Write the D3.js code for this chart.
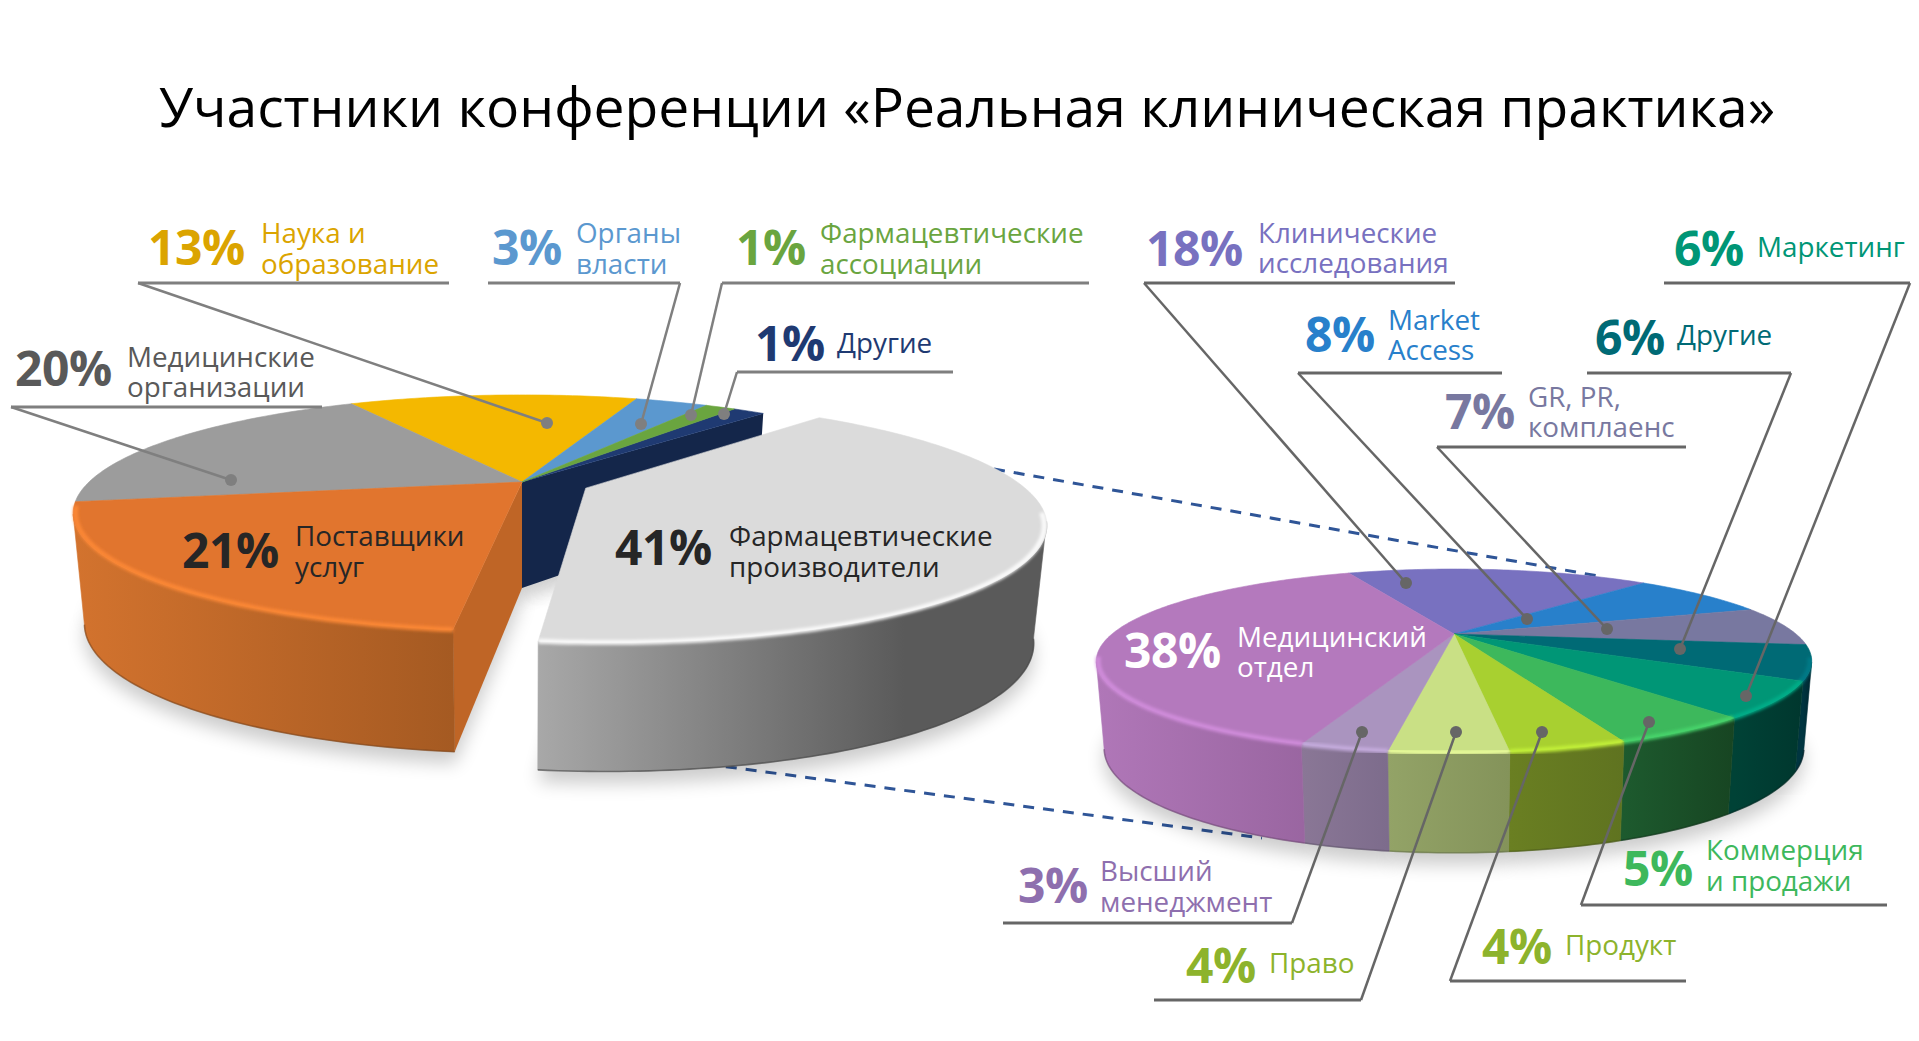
<!DOCTYPE html>
<html lang="ru">
<head>
<meta charset="utf-8">
<title>Участники конференции</title>
<script src="https://cdn.jsdelivr.net/npm/d3@7"></script>
<style>
    html, body { margin: 0; background: #fff; }
    svg { display: block; font-family: "Open Sans", "Noto Sans", sans-serif; }
</style>
</head>
<body>
<svg id="chart" width="1919" height="1041"></svg>
<script>
const titleText = 'Участники конференции «Реальная клиническая практика»';

// Outer pie, clockwise from the yellow slice (shares)
const outerNames = [['Наука и', 'образование'], ['Органы', 'власти'], ['Фармацевтические', 'ассоциации'], ['Другие'],
    ['Фармацевтические', 'производители'], ['Поставщики', 'услуг'], ['Медицинские', 'организации']];
const outerValues = [13.49, 3.4, 1.4, 1.49, 40.51, 20.5, 19.8];
const outerTop = ['#f4b800', '#5b98cf', '#6aa53f', '#1f3a72', '#dbdbdb', '#e1752e', '#9c9c9c'];
const outerWall = [['#b98c00', '#a67e00'], ['#44739c', '#3d6890'], ['#4f7d30', '#47702b'], ['#14264a', '#14264a'],
    ['#a8a8a8', '#5a5a5a'], ['#d3732e', '#a55a22'], ['#777', '#666']];
const outerInk = ['#dba400', '#5b98cf', '#6aa53f', '#1f3a72', '#262626', '#262626', '#595959'];

// Inner pie: breakdown of the pharma slice, clockwise from "Клинические исследования"
const innerNames = [['Клинические', 'исследования'], ['Market', 'Access'], ['GR, PR,', 'комплаенс'], ['Другие'], ['Маркетинг'],
    ['Коммерция', 'и продажи'], ['Продукт'], ['Право'], ['Высший', 'менеджмент'], ['Медицинский', 'отдел']];
const innerValues = [18, 8, 7, 6, 6, 5, 4, 4, 3, 38];
const innerTop = ['#7871c0', '#2880cb', '#7878a0', '#006a75', '#009676', '#3db85c', '#a8d030', '#c9e085', '#aa94bf', '#b479bd'];
const innerWall = [['#5a5592', '#514d85'], ['#1e6199', '#1b578a'], ['#5a5a78', '#51516c'], ['#003540', '#00252e'], ['#004236', '#00372e'],
    ['#1d5a2e', '#174522'], ['#6a7f22', '#5f7320'], ['#93a367', '#84935a'], ['#8a7796', '#7d6c8c'], ['#b077b8', '#95629c']];
const innerInk = ['#7871c0', '#2880cb', '#7878a0', '#006a75', '#009676', '#3db85c', '#8db32c', '#8db32c', '#8e6fae', '#fff'];

// Label layout, same order as the names: [percent x, percent baseline, text x, text baselines]
const outerSpots = [[148, 265, 261, [243, 274]], [492, 265, 576, [243, 274]], [736, 265, 820, [243, 274]], [755, 361, 837, [353]],
    [615, 565, 729, [546, 577]], [182, 568, 295, [546, 577]], [15, 386, 127, [367, 397]]];
const innerSpots = [[1146, 266, 1258, [243, 273]], [1305, 352, 1388, [330, 360]], [1445, 429, 1528, [407, 437]], [1595, 355, 1677, [345]],
    [1674, 266, 1757, [257]], [1623, 886, 1706, [860, 891]], [1482, 964, 1565, [955]], [1186, 983, 1269, [973]], [1018, 903, 1100, [881, 912]], [1124, 668, 1237, [647, 677]]];

// Leaders: underline from x0 to x1 at y, bent at the elbow end down to the dot
const outerLeaders = [
    { x0: 138, x1: 449, y: 283, elbow: 138, dot: [547, 423] },
    { x0: 488, x1: 680, y: 283, elbow: 680, dot: [641, 424] },
    { x0: 722, x1: 1089, y: 283, elbow: 722, dot: [691, 415] },
    { x0: 737, x1: 953, y: 372, elbow: 737, dot: [724, 414] },
    null, null,
    { x0: 11, x1: 322, y: 407, elbow: 11, dot: [231, 480] }
];
const innerLeaders = [
    { x0: 1144, x1: 1455, y: 283, elbow: 1144, dot: [1406, 583] },
    { x0: 1298, x1: 1502, y: 373, elbow: 1298, dot: [1527, 619] },
    { x0: 1437, x1: 1686, y: 447, elbow: 1437, dot: [1607, 629] },
    { x0: 1587, x1: 1791, y: 373, elbow: 1791, dot: [1680, 649] },
    { x0: 1664, x1: 1910, y: 283, elbow: 1910, dot: [1746, 696] },
    { x0: 1581, x1: 1887, y: 905, elbow: 1581, dot: [1649, 722] },
    { x0: 1450, x1: 1686, y: 981, elbow: 1450, dot: [1542, 732] },
    { x0: 1154, x1: 1361, y: 1000, elbow: 1361, dot: [1456, 732] },
    { x0: 1003, x1: 1292, y: 923, elbow: 1292, dot: [1362, 732] },
    null
];

const svg = d3.select('#chart');
const defs = svg.append('defs');
const rad = Math.PI / 180;

defs.append('filter').attr('id', 'soft').attr('x', '-20%').attr('y', '-20%').attr('width', '140%').attr('height', '140%')
    .append('feGaussianBlur').attr('stdDeviation', 9);
defs.append('filter').attr('id', 'rim').attr('x', '-20%').attr('y', '-20%').attr('width', '140%').attr('height', '140%')
    .append('feGaussianBlur').attr('stdDeviation', 1.5);

// Pie plane seen in perspective: (u, v) on the unit disc, v pointing to the viewer
function projector(g) {
    return (a, r, ex = 0, ey = 0) => {
        const u = r * Math.sin(a) + ex;
        const v = -r * Math.cos(a) + ey;
        const w = 1 - g.k * v;
        return { x: g.cx + g.R * u / w, y: g.cy + g.S * v / w, v, front: -Math.cos(a) };
    };
}

const lineGen = d3.line().x(d => d.x).y(d => d.y);

function arcSamples(a0, a1) {
    const n = Math.max(2, Math.ceil((a1 - a0) / (1 * rad)));
    return d3.range(n + 1).map(i => a0 + (a1 - a0) * i / n);
}

function drawPie(g, values, topColors, wallColors, name) {
    const project = projector(g);
    const arcs = d3.pie().sort(null).startAngle(g.start * rad).endAngle((g.start + 360) * rad)(values);

    // exploded slice last so it sits on top of the rest, its neighbour just before it
    const order = d3.range(arcs.length).sort((a, b) => g.rank(a) - g.rank(b));

    const layer = svg.append('g').attr('class', name);
    const rimOf = i => {
        const off = i === g.exploded ? g.offset : [0, 0];
        return arcSamples(arcs[i].startAngle, arcs[i].endAngle).map(a => project(a, 1, off[0], off[1]));
    };
    const apexOf = i => {
        const off = i === g.exploded ? g.offset : [0, 0];
        return project(0, 0, off[0], off[1]);
    };
    const lowerOf = i => p => ({
        x: g.cx + (p.x - g.cx) * g.shrink,
        y: p.y + g.d0 + g.d1 * p.v + (i === g.exploded ? g.extraDepth : 0)
    });

    order.forEach(i => {
        const lower = lowerOf(i);
        const outline = [lower(apexOf(i)), ...rimOf(i).map(lower)];
        layer.append('path')
            .attr('d', lineGen(outline.map(p => ({ x: p.x, y: p.y + 12 }))) + 'Z')
            .attr('fill', '#000').attr('opacity', 0.2).attr('filter', 'url(#soft)');
    });

    order.forEach(i => {
        const lower = lowerOf(i);
        const rim = rimOf(i);
        const apex = apexOf(i);
        // only the stretch of rim that faces the viewer has a visible wall
        const facing = rim.filter(p => p.front > g.k);
        const xs = d3.extent(rim, p => p.x);

        const gradId = `${name}-wall-${i}`;
        const grad = defs.append('linearGradient').attr('id', gradId)
            .attr('gradientUnits', 'userSpaceOnUse')
            .attr('x1', xs[0]).attr('x2', i === g.exploded ? xs[0] + (xs[1] - xs[0]) * 0.72 : xs[1])
            .attr('y1', 0).attr('y2', 0);
        grad.append('stop').attr('offset', 0).attr('stop-color', wallColors[i][0]);
        grad.append('stop').attr('offset', 1).attr('stop-color', wallColors[i][1]);

        // cut walls of the slices next to the gap
        if (g.cuts[i] !== undefined) {
            const edge = g.cuts[i] === 'start' ? rim[0] : rim[rim.length - 1];
            layer.append('path')
                .attr('d', lineGen([apex, edge, lower(edge), lower(apex)]) + 'Z')
                .attr('fill', g.cutColors[i]);
        }

        if (facing.length > 1) {
            layer.append('path')
                .attr('d', lineGen([...facing, ...facing.map(lower).reverse()]) + 'Z')
                .attr('fill', `url(#${gradId})`)
                .attr('stroke', `url(#${gradId})`).attr('stroke-width', 0.6);

            // darker line at the foot of the wall
            layer.append('path')
                .attr('d', lineGen(facing.map(lower)))
                .attr('fill', 'none').attr('stroke', d3.color(wallColors[i][1]).darker(0.8))
                .attr('stroke-width', 1.6).attr('opacity', 0.6);
        }

        // top face
        layer.append('path')
            .attr('d', lineGen([apex, ...rim]) + 'Z')
            .attr('fill', topColors[i])
            .attr('stroke', topColors[i]).attr('stroke-width', 0.6);
    });

    // bevel highlight along the front of the rim, painted over everything of this pie
    order.forEach(i => {
        const lit = rimOf(i).filter(p => p.front > g.bevelFrom);
        if (lit.length < 2) return;
        layer.append('path')
            .attr('d', lineGen(lit.map(p => ({ x: g.cx + (p.x - g.cx) * 0.995, y: p.y }))))
            .attr('fill', 'none')
            .attr('stroke', d3.color(topColors[i]).brighter(i === g.exploded ? 0.9 : 0.45))
            .attr('stroke-opacity', 0.85)
            .attr('stroke-width', 5).attr('filter', 'url(#rim)');
    });
}

function drawLabels(names, values, inks, spots, leaders, leaderColor) {
    const pct = d3.format('.0f');
    names.forEach((lines, i) => {
        const spot = spots[i];
        const lead = leaders[i];
        if (lead) {
            const corner = [lead.elbow, lead.y];
            svg.append('path')
                .attr('d', d3.line()([[lead.x0, lead.y], [lead.x1, lead.y]]))
                .attr('stroke', leaderColor).attr('stroke-width', 3).attr('fill', 'none');
            svg.append('path')
                .attr('d', d3.line()([corner, lead.dot]))
                .attr('stroke', leaderColor).attr('stroke-width', 2.5).attr('fill', 'none');
            svg.append('circle')
                .attr('cx', lead.dot[0]).attr('cy', lead.dot[1]).attr('r', 6)
                .attr('fill', leaderColor);
        }
        svg.append('text')
            .attr('x', spot[0]).attr('y', spot[1])
            .attr('fill', inks[i])
            .style('font-size', '48px').style('font-weight', 700)
            .style('letter-spacing', '-0.5px')
            .text(`${pct(values[i])}%`);
        lines.forEach((line, j) => {
            svg.append('text')
                .attr('x', spot[2]).attr('y', spot[3][j])
                .attr('fill', inks[i])
                .style('font-size', '27.8px')
                .text(line);
        });
    });
}

svg.append('text')
    .attr('x', 967).attr('y', 127)
    .attr('text-anchor', 'middle')
    .attr('fill', '#000')
    .style('font-size', '55.2px')
    .text(titleText);

// dashed lines joining the pharma slice to its breakdown
const dashes = [[[994, 469], [1604, 577]], [[706, 764], [1262, 838]]];
dashes.forEach(seg => {
    svg.append('path')
        .attr('d', d3.line()(seg))
        .attr('stroke', '#2f5597').attr('stroke-width', 3)
        .attr('stroke-dasharray', '11 9').attr('fill', 'none');
});

drawPie({
    cx: 522, cy: 482, R: 433, S: 110, k: 0.263, shrink: 0.975, d0: 106, d1: 16, extraDepth: 6,
    start: -29, exploded: 4, offset: [0.145, 0.055], bevelFrom: 0.2,
    rank: i => [1, 1, 1, 0, 4, 3, 1][i],
    cuts: { 3: 'end', 5: 'start' },
    cutColors: { 3: '#14264a', 5: '#bf6526' }
}, outerValues, outerTop, outerWall, 'outer');

drawPie({
    cx: 1454, cy: 634, R: 342, S: 84, k: 0.293, shrink: 0.978, d0: 82, d1: 18, extraDepth: 0,
    start: -23, exploded: -1, offset: [0, 0], bevelFrom: 0.25,
    rank: i => i,
    cuts: {}, cutColors: {}
}, innerValues, innerTop, innerWall, 'inner');

drawLabels(outerNames, outerValues, outerInk, outerSpots, outerLeaders, '#7f7f7f');
drawLabels(innerNames, innerValues, innerInk, innerSpots, innerLeaders, '#666');
</script>
</body>
</html>
